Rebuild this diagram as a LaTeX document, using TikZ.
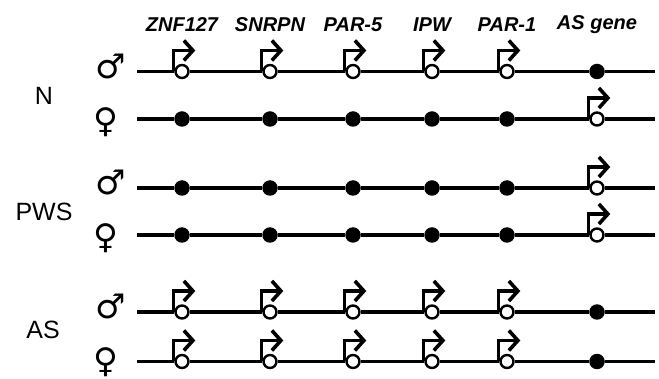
\documentclass[tikz,border=0pt]{standalone}
\usepackage{fontspec}
\setmainfont{Liberation Sans}
\newfontfamily\symfont{DejaVu Sans}
\usetikzlibrary{arrows.meta}
\begin{document}
\begin{tikzpicture}[x=1pt,y=-1pt,
  chrom/.style={line width=3.5pt},
  off/.style={circle,fill=black,inner sep=0pt,minimum size=15.5pt},
  on/.style={circle,draw=black,fill=white,line width=2.4pt,inner sep=0pt,minimum size=13pt},
  prom/.style={line width=3.4pt,-{Straight Barb[length=9pt,width=20pt,line width=3.6pt]}},
  gene/.style={font=\bfseries\itshape\fontsize{20}{22}\selectfont},
  grp/.style={font=\fontsize{25}{28}\selectfont},
  sex/.style={font=\symfont\fontsize{34}{36}\selectfont,inner sep=0pt}]
\useasboundingbox (0,0) rectangle (659,379);
% gene names
\foreach \g/\x/\t in {1/182/ZNF127,2/270/SNRPN,3/353/PAR-5,4/432/IPW,5/507/PAR-1,6/597/AS gene}
  \node[gene] (h\g) at (\x,25) {\t};
% group labels
\node[grp] (gN) at (44,96) {N};
\node[grp] (gP) at (44,212) {PWS};
\node[grp] (gA) at (43,330) {AS};
% rows
\foreach \r/\y/\s/\sx/\sy/\a in {1/71.5/♂/111/66/1, 2/119/♀/106/122/0, 3/188/♂/111/182.5/0, 4/235/♀/106/238/0, 5/312/♂/111/306.5/1, 6/361.5/♀/106/362/1}{
  \node[sex] (s\r) at (\sx,\sy) {\s};
  \coordinate (L\r) at (137,\y);
  \coordinate (R\r) at (655,\y);
  \foreach \g/\x in {1/182,2/270,3/353,4/432,5/507,6/597}{
    \pgfmathtruncatemacro\act{ifthenelse(\g<6,\a,1-\a)}
    \ifnum\act=1
      \node[on] (c\r-\g) at (\x,\y) {};
      \draw[prom] ([xshift=-1pt]c\r-\g.west) |- ++(22,-21);
    \else
      \node[off] (c\r-\g) at (\x,\y) {};
    \fi
  }
  \draw[chrom] (L\r) -- (c\r-1) -- (c\r-2) -- (c\r-3) -- (c\r-4) -- (c\r-5) -- (c\r-6) -- (R\r);
}
\end{tikzpicture}
\end{document}
